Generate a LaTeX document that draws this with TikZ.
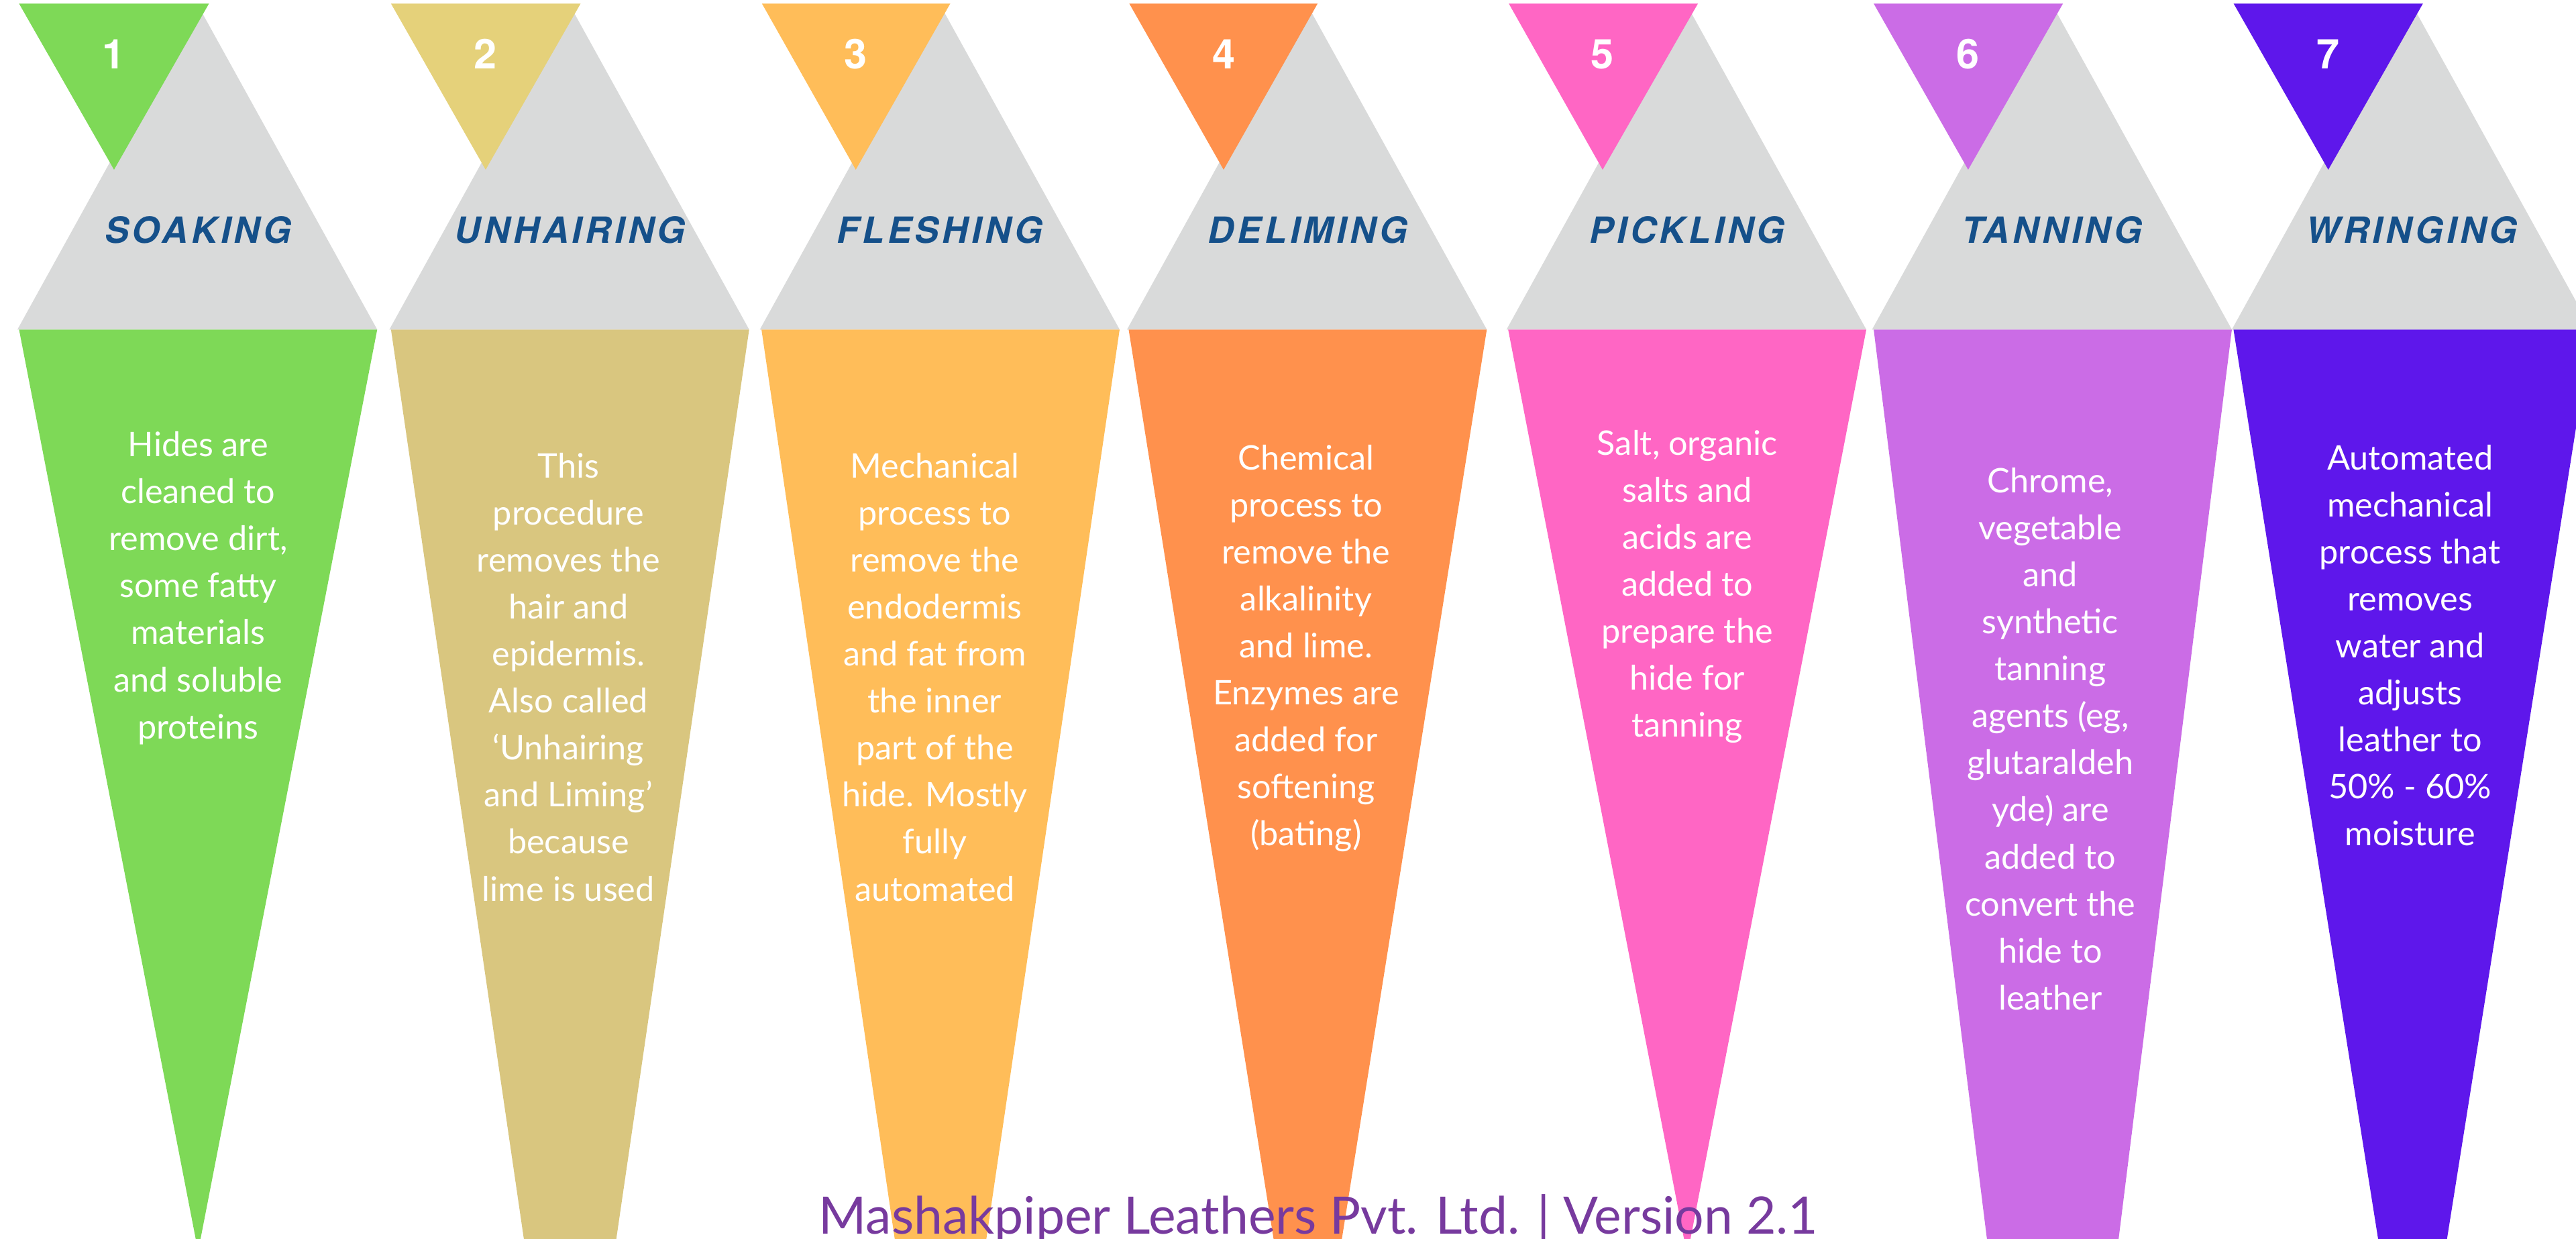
\documentclass[tikz,border=0pt]{standalone}
\usepackage{fontspec}
\setmainfont{Lato}
\newfontfamily\headfont[LetterSpace=9]{TeX Gyre Heros}
\newfontfamily\numfont{TeX Gyre Heros}

\definecolor{triGray}{HTML}{D9DADA}
\definecolor{headBlue}{HTML}{15508A}
\definecolor{footPurple}{HTML}{773A9E}
\definecolor{cSoak}{HTML}{7ED957}
\definecolor{cHairTop}{HTML}{E5D17A}
\definecolor{cHair}{HTML}{D9C67F}
\definecolor{cFlesh}{HTML}{FFBD59}
\definecolor{cDelime}{HTML}{FF914D}
\definecolor{cPickle}{HTML}{FF66C4}
\definecolor{cTan}{HTML}{CB6CE6}
\definecolor{cWring}{HTML}{5E17EB}

\begin{document}
\begin{tikzpicture}[x=0.5pt,y=0.5pt,yscale=-1,xscale=1,
  numtxt/.style={text=white,inner sep=0pt,font=\numfont\bfseries\fontsize{12.5}{15}\selectfont},
  headtxt/.style={text=headBlue,inner sep=0pt,font=\headfont\bfseries\itshape\fontsize{11}{13}\selectfont},
  bodytxt/.style={text=white,inner sep=0pt,align=center,anchor=base,font=\fontsize{10.3}{14.3}\selectfont},
  foottxt/.style={text=footPurple,inner sep=0pt,anchor=base,font=\fontsize{15.7}{18}\selectfont}]
\useasboundingbox (0,0) rectangle (1568,754);
\clip (0,0) rectangle (1568,754);

%Shape: Triangle [Soaking]
\fill [triGray] (10.6,200.6) -- (229.6,200.6) -- (120.1,2.5) -- cycle ;
\fill [cSoak] (11.6,200.6) -- (229.6,200.6) -- (120.6,761.7) -- cycle ;
\fill [cSoak] (11.6,2.2) -- (127.2,2.2) -- (69.4,103.3) -- cycle ;
% Text Node (body anchored at its last line)
\node [numtxt] (num1) at (69.4,33) {1};
\node [headtxt] (head1) at (120.6,140) {SOAKING};
\node [bodytxt] (body1) at (120.6,449.6) {Hides are\\cleaned to\\remove dirt,\\some fatty\\materials\\and soluble\\proteins};

%Shape: Triangle [Unhairing]
\fill [triGray] (237,200.6) -- (456,200.6) -- (346.5,2.5) -- cycle ;
\fill [cHair] (238,200.6) -- (456,200.6) -- (347,946.7) -- cycle ;
\fill [cHairTop] (238,2.2) -- (353.4,2.2) -- (295.6,103.3) -- cycle ;
% Text Node
\node [numtxt] (num2) at (295.6,33) {2};
\node [headtxt] (head2) at (347,140) {UNHAIRING};
\node [bodytxt] (body2) at (346,548.4) {This\\procedure\\removes the\\hair and\\epidermis.\\Also called\\‘Unhairing\\and Liming’\\because\\lime is used};

%Shape: Triangle [Fleshing]
\fill [triGray] (462.5,200.6) -- (681.5,200.6) -- (572,2.5) -- cycle ;
\fill [cFlesh] (463.5,200.6) -- (681.5,200.6) -- (572.5,944.4) -- cycle ;
\fill [cFlesh] (463.8,2.2) -- (578.4,2.2) -- (520.9,103.3) -- cycle ;
% Text Node
\node [numtxt] (num3) at (520.9,33) {3};
\node [headtxt] (head3) at (572,140) {FLESHING};
\node [bodytxt] (body3) at (569,548.4) {Mechanical\\process to\\remove the\\endodermis\\and fat from\\the inner\\part of the\\hide. Mostly\\fully\\automated};

%Shape: Triangle [Deliming]
\fill [triGray] (686,200.6) -- (905,200.6) -- (795.5,2.5) -- cycle ;
\fill [cDelime] (687,200.6) -- (905,200.6) -- (796,884.5) -- cycle ;
\fill [cDelime] (687.4,2.2) -- (802,2.2) -- (744.8,103.3) -- cycle ;
% Text Node
\node [numtxt] (num4) at (744.8,33) {4};
\node [headtxt] (head4) at (796,140) {DELIMING};
\node [bodytxt] (body4) at (795,514.8) {Chemical\\process to\\remove the\\alkalinity\\and lime.\\Enzymes are\\added for\\softening\\(bating)};

%Shape: Triangle [Pickling]
\fill [triGray] (917,200.6) -- (1136,200.6) -- (1026.5,2.5) -- cycle ;
\fill [cPickle] (918,200.6) -- (1136,200.6) -- (1027,764.3) -- cycle ;
\fill [cPickle] (918.4,2.2) -- (1033.5,2.2) -- (975.5,103.3) -- cycle ;
% Text Node
\node [numtxt] (num5) at (975.5,33) {5};
\node [headtxt] (head5) at (1027,140) {PICKLING};
\node [bodytxt] (body5) at (1027,448.6) {Salt, organic\\salts and\\acids are\\added to\\prepare the\\hide for\\tanning};

%Shape: Triangle [Tanning]
\fill [triGray] (1139.5,200.6) -- (1358.5,200.6) -- (1249,2.5) -- cycle ;
\fill [cTan] (1140.5,200.6) -- (1358.5,200.6) -- (1249.5,1076) -- cycle ;
\fill [cTan] (1140.5,2.2) -- (1255.7,2.2) -- (1198,103.3) -- cycle ;
% Text Node
\node [numtxt] (num6) at (1198,33) {6};
\node [headtxt] (head6) at (1249,140) {TANNING};
\node [bodytxt] (body6) at (1248,614.6) {Chrome,\\vegetable\\and\\synthetic\\tanning\\agents (eg,\\glutaraldeh\\yde) are\\added to\\convert the\\hide to\\leather};

%Shape: Triangle [Wringing]
\fill [triGray] (1358.5,200.6) -- (1577.5,200.6) -- (1468,2.5) -- cycle ;
\fill [cWring] (1359.5,200.6) -- (1577.5,200.6) -- (1468.5,886) -- cycle ;
\fill [cWring] (1359.6,2.2) -- (1474.8,2.2) -- (1417.2,103.3) -- cycle ;
% Text Node
\node [numtxt] (num7) at (1417.2,33) {7};
\node [headtxt] (head7) at (1468,140) {WRINGING};
\node [bodytxt] (body7) at (1467,514.8) {Automated\\mechanical\\process that\\removes\\water and\\adjusts\\leather to\\50\% - 60\%\\moisture};

% Footer
\node [foottxt] (foot) at (802.5,751) {Mashakpiper Leathers Pvt. Ltd. | Version 2.1};

\end{tikzpicture}
\end{document}
